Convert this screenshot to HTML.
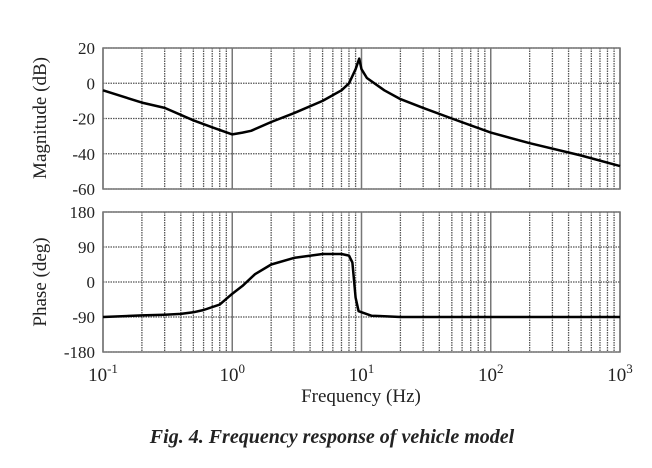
<!DOCTYPE html>
<html><head><meta charset="utf-8"><style>
body{margin:0;background:#fff}
svg text{font-family:"Liberation Serif",serif;fill:#222}
</style></head><body>
<svg id="chart" width="652" height="463" viewBox="0 0 652 463" xmlns="http://www.w3.org/2000/svg">
<g id="grid"></g><g id="marks"></g><g id="labels"></g>
<text x="332" y="443" text-anchor="middle" font-size="20" font-style="italic" font-weight="bold">Fig. 4. Frequency response of vehicle model</text>
<text x="361" y="402" text-anchor="middle" font-size="19">Frequency (Hz)</text>
<text transform="translate(46,118) rotate(-90)" text-anchor="middle" font-size="19">Magnitude (dB)</text>
<text transform="translate(46,282) rotate(-90)" text-anchor="middle" font-size="19">Phase (deg)</text>
</svg>
<script>
const magFreq=[0.1,0.2,0.3,0.5,0.7,1.0,1.2,1.4,2,3,5,7,8,9,9.6,10,11,15,20,30,50,100,200,500,1000];
const magDb=[-4,-11,-14,-21,-25,-29,-28,-27,-22,-17,-10,-4,0,8,14,8,3,-4,-9,-14,-20,-28,-34,-41,-47];
const phFreq=[0.1,0.2,0.3,0.4,0.5,0.6,0.8,1.0,1.2,1.5,2,3,5,7,8,8.5,9,9.5,12,15,20,1000];
const phDeg=[-90,-86,-84,-82,-78,-72,-58,-30,-10,20,45,62,72,72,68,50,-40,-75,-87,-88,-90,-90];
const magTicks=[20,0,-20,-40,-60];
const phTicks=[180,90,0,-90,-180];
const decades=[-1,0,1,2,3];
const X0=103,X1=620;
function xs(f){return X0+(Math.log10(f)+1)/4*(X1-X0);}
const mag={top:48,bot:189,min:-60,max:20};
const ph={top:212,bot:352,min:-180,max:180};
function ys(p,v){return p.bot-(v-p.min)/(p.max-p.min)*(p.bot-p.top);}
const NS="http://www.w3.org/2000/svg";
function mk(t,a,parent){const e=document.createElementNS(NS,t);for(const k in a)e.setAttribute(k,a[k]);document.getElementById(parent).appendChild(e);return e;}
[[mag,magTicks,'magnitude'],[ph,phTicks,'phase']].forEach(([p,ticks,nm])=>{
  for(let d=-1;d<3;d++)for(let m=2;m<=9;m++){
    const x=xs(m*Math.pow(10,d));
    const l=mk('line',{x1:x,x2:x,y1:p.top,y2:p.bot,stroke:'#555','stroke-width':1.3,'stroke-dasharray':'1.5,1'},'grid');
    
    
  }
  decades.forEach(d=>{const x=xs(Math.pow(10,d));
    const l=mk('line',{x1:x,x2:x,y1:p.top,y2:p.bot,stroke:'#777','stroke-width':1.5},'grid');
    
    });
  ticks.forEach(v=>{const y=ys(p,v);
    const l=mk('line',{x1:X0,x2:X1,y1:y,y2:y,stroke:'#555','stroke-width':1.3,'stroke-dasharray':'1.5,1'},'grid');
    
    
    const t=mk('text',{x:X0-8,y:y+6,'text-anchor':'end','font-size':17},'labels');t.textContent=v;
    
    });
  const r=mk('rect',{x:X0,y:p.top,width:X1-X0,height:p.bot-p.top,fill:'none',stroke:'#777','stroke-width':1.5},'grid');
  
  
});
let d1=magFreq.map((f,i)=>(i?'L':'M')+xs(f).toFixed(1)+','+ys(mag,magDb[i]).toFixed(1)).join('');
const p1=mk('path',{d:d1,fill:'none',stroke:'#000','stroke-width':2.5,'stroke-linejoin':'round'},'marks');


let d2=phFreq.map((f,i)=>(i?'L':'M')+xs(f).toFixed(1)+','+ys(ph,phDeg[i]).toFixed(1)).join('');
const p2=mk('path',{d:d2,fill:'none',stroke:'#000','stroke-width':2.5,'stroke-linejoin':'round'},'marks');


decades.forEach(d=>{const x=xs(Math.pow(10,d));
  const t=mk('text',{x:x,y:381,'text-anchor':'middle','font-size':19},'labels');
  t.innerHTML='10<tspan dy="-8" font-size="13">'+d+'</tspan>';
  
  });
</script>
</body></html>
